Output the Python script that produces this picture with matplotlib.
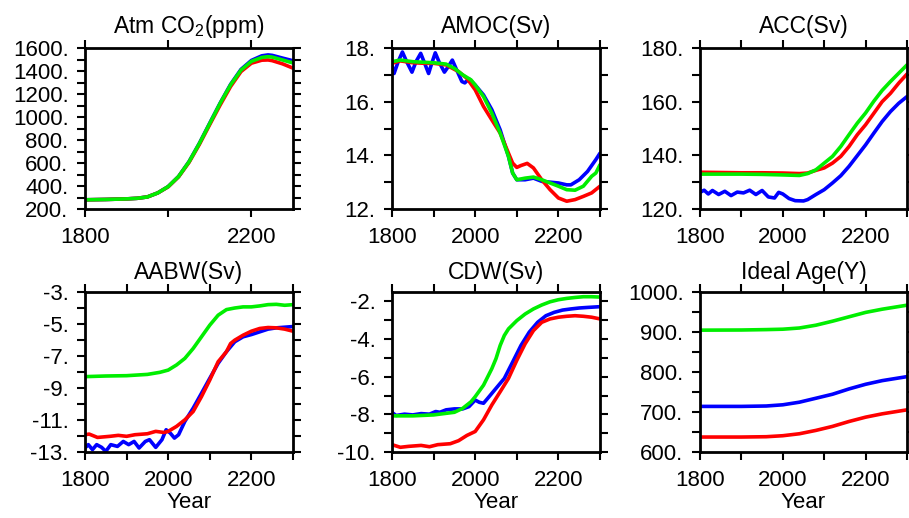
import matplotlib
matplotlib.use("Agg")
import matplotlib.pyplot as plt
from matplotlib.ticker import FuncFormatter, MultipleLocator, FixedLocator

plt.rcParams['font.family'] = ['Liberation Sans', 'DejaVu Sans']
plt.rcParams['mathtext.fontset'] = 'custom'
plt.rcParams['mathtext.rm'] = 'Liberation Sans'

# ---------------- data ----------------
# Atmospheric CO2 (ppm)
co2_years = [1800, 1850, 1900, 1925, 1950, 1975, 2000, 2025, 2050, 2075, 2100,
             2125, 2150, 2175, 2200, 2225, 2240, 2250, 2275, 2300]
co2_blue = [280, 283, 288, 293, 305, 340, 395, 483, 612, 772, 948,
            1122, 1284, 1414, 1492, 1532, 1540, 1536, 1512, 1489]
co2_red = [280, 283, 288, 293, 305, 340, 393, 480, 605, 762, 935,
           1105, 1265, 1395, 1468, 1494, 1496, 1490, 1462, 1425]
co2_green = [280, 283, 288, 293, 305, 340, 395, 483, 610, 770, 945,
             1120, 1280, 1408, 1484, 1518, 1525, 1521, 1496, 1470]

# AMOC (Sv)
amoc_blue_years = [1800, 1805, 1815, 1825, 1835, 1848, 1858, 1869, 1878, 1888,
                   1896, 1904, 1914, 1926, 1935, 1945, 1955, 1968, 1975, 1985,
                   2000, 2020, 2040, 2060, 2080, 2090, 2100, 2120, 2140, 2160,
                   2180, 2200, 2220, 2230, 2250, 2270, 2290, 2300]
amoc_blue = [17.35, 17.05, 17.5, 17.85, 17.5, 17.1, 17.5, 17.8, 17.45, 17.05,
             17.45, 17.82, 17.45, 17.1, 17.3, 17.55, 17.2, 16.75, 16.7, 16.85,
             16.62, 16.25, 15.7, 14.95, 13.96, 13.34, 13.09, 13.09, 13.15, 13.03,
             13.0, 12.97, 12.9, 12.9, 13.09, 13.4, 13.84, 14.08]
amoc_red_years = [1800, 1820, 1850, 1880, 1900, 1930, 1960, 1980, 2000, 2020,
                  2040, 2060, 2080, 2090, 2100, 2110, 2125, 2140, 2160, 2180,
                  2200, 2220, 2240, 2260, 2280, 2300]
amoc_red = [17.43, 17.52, 17.45, 17.43, 17.43, 17.37, 17.12, 16.87, 16.44, 15.82,
            15.32, 14.83, 14.08, 13.71, 13.55, 13.62, 13.7, 13.53, 13.09, 12.72,
            12.41, 12.29, 12.35, 12.47, 12.6, 12.85]
amoc_green_years = [1800, 1820, 1850, 1900, 1930, 1950, 1970, 1990, 2000, 2020,
                    2040, 2060, 2080, 2090, 2100, 2120, 2140, 2160, 2180, 2200,
                    2220, 2240, 2260, 2280, 2290, 2300]
amoc_green = [17.49, 17.55, 17.49, 17.45, 17.4, 17.24, 17.0, 16.81, 16.62, 16.19,
              15.57, 14.83, 13.96, 13.34, 13.09, 13.15, 13.19, 13.09, 12.97, 12.85,
              12.72, 12.70, 12.85, 13.22, 13.34, 13.65]

# ACC (Sv)
acc_blue_years = [1800, 1810, 1820, 1830, 1845, 1860, 1875, 1890, 1905, 1920,
                  1935, 1950, 1965, 1980, 1990, 2000, 2015, 2030, 2050, 2060,
                  2080, 2100, 2120, 2140, 2160, 2180, 2200, 2220, 2240, 2260,
                  2280, 2300]
acc_blue = [126.2, 127.0, 125.6, 126.9, 125.4, 126.6, 125.0, 126.3, 126.0, 127.0,
            125.4, 126.9, 124.5, 124.1, 126.2, 125.6, 123.9, 123.1, 123.0, 123.5,
            125.4, 127.2, 129.7, 132.4, 135.9, 139.9, 143.9, 148.3, 152.6, 156.3,
            159.4, 161.9]
acc_years = [1800, 1850, 1900, 1950, 2000, 2040, 2060, 2080, 2100, 2120, 2140,
             2160, 2180, 2200, 2220, 2240, 2260, 2280, 2300]
acc_red = [133.7, 133.6, 133.5, 133.5, 133.4, 133.2, 133.4, 134.4, 135.3, 137.1,
           139.6, 143.3, 147.7, 151.4, 155.7, 160.0, 163.1, 166.9, 170.3]
acc_green = [133.0, 133.0, 133.0, 132.9, 132.7, 132.5, 133.2, 134.6, 137.1, 139.6,
             143.3, 147.7, 152.0, 155.8, 160.2, 164.2, 167.5, 170.6, 173.7]

# AABW (Sv)
aabw_blue_years = [1800, 1808, 1818, 1828, 1840, 1850, 1862, 1878, 1892, 1905,
                   1918, 1930, 1945, 1955, 1970, 1985, 1995, 2005, 2015, 2025,
                   2040, 2060, 2080, 2100, 2120, 2140, 2160, 2180, 2200, 2220,
                   2240, 2260, 2280, 2300]
aabw_blue = [-12.75, -12.54, -12.85, -12.54, -12.71, -12.96, -12.54, -12.65, -12.34, -12.54,
             -12.34, -12.75, -12.34, -12.23, -12.71, -12.23, -11.61, -11.82, -12.13, -11.92,
             -11.09, -10.26, -9.33, -8.39, -7.46, -6.73, -6.11, -5.80, -5.66, -5.49,
             -5.32, -5.24, -5.20, -5.16]
aabw_red_years = [1800, 1810, 1830, 1860, 1880, 1900, 1920, 1950, 1970, 1990,
                  2000, 2020, 2040, 2060, 2080, 2100, 2120, 2140, 2150, 2160,
                  2180, 2200, 2220, 2240, 2260, 2280, 2300]
aabw_red = [-11.92, -11.88, -12.09, -12.02, -11.96, -12.02, -11.92, -11.86, -11.71, -11.78,
            -11.71, -11.4, -10.99, -10.47, -9.54, -8.5, -7.36, -6.73, -6.22, -6.01,
            -5.70, -5.45, -5.28, -5.22, -5.24, -5.32, -5.45]
aabw_green_years = [1800, 1850, 1900, 1950, 1980, 2000, 2020, 2040, 2060, 2080,
                    2100, 2120, 2140, 2160, 2180, 2200, 2220, 2240, 2260, 2280, 2300]
aabw_green = [-8.29, -8.25, -8.23, -8.15, -8.02, -7.88, -7.56, -7.15, -6.53, -5.80,
              -5.07, -4.45, -4.10, -4.0, -3.93, -3.93, -3.87, -3.79, -3.77, -3.83, -3.79]

# CDW (Sv)
cdw_blue_years = [1800, 1810, 1830, 1850, 1870, 1890, 1905, 1915, 1930, 1950,
                  1970, 1985, 2000, 2010, 2020, 2030, 2050, 2070, 2090, 2110,
                  2130, 2150, 2170, 2190, 2210, 2230, 2250, 2270, 2300]
cdw_blue = [-7.9, -8.06, -7.99, -8.03, -7.96, -7.99, -7.85, -7.89, -7.76, -7.71,
            -7.71, -7.59, -7.24, -7.36, -7.41, -7.15, -6.62, -6.09, -5.22, -4.34,
            -3.63, -3.11, -2.76, -2.58, -2.46, -2.40, -2.35, -2.32, -2.28]
cdw_red_years = [1800, 1820, 1840, 1870, 1890, 1910, 1940, 1960, 1980, 2000,
                 2020, 2040, 2060, 2080, 2100, 2120, 2140, 2160, 2180, 2200,
                 2220, 2240, 2260, 2280, 2300]
cdw_red = [-9.61, -9.75, -9.70, -9.65, -9.72, -9.61, -9.56, -9.4, -9.12, -8.91,
           -8.29, -7.5, -6.8, -6.09, -5.13, -4.25, -3.55, -3.11, -2.93, -2.84,
           -2.79, -2.76, -2.79, -2.84, -2.93]
cdw_green_years = [1800, 1850, 1900, 1950, 1970, 1990, 2000, 2020, 2040, 2050,
                   2060, 2070, 2080, 2100, 2120, 2140, 2160, 2180, 2200, 2220,
                   2240, 2260, 2280, 2300]
cdw_green = [-8.08, -8.08, -8.03, -7.89, -7.68, -7.33, -7.06, -6.45, -5.57, -5.04,
             -4.34, -3.81, -3.46, -3.02, -2.67, -2.40, -2.19, -2.02, -1.91, -1.84,
             -1.79, -1.75, -1.75, -1.77]

# Ideal Age (Y)
age_years = [1800, 1900, 1960, 2000, 2040, 2080, 2120, 2160, 2200, 2240, 2300]
age_blue = [714, 714, 715, 718, 724.5, 734.4, 744.4, 757.7, 769.3, 778.4, 788.4]
age_red = [637.4, 637.4, 638.2, 640.7, 645.6, 654, 664, 676.3, 687.1, 695.4, 705.4]
age_green = [904.6, 905, 906, 907, 910, 917, 927, 938, 949, 957, 967]

titles = ["Atm CO$_2$(ppm)", "AMOC(Sv)", "ACC(Sv)", "AABW(Sv)", "CDW(Sv)", "Ideal Age(Y)"]
ylims = [(200, 1600), (12, 18), (120, 180), (-13, -3), (-10, -1.5), (600, 1000)]
ymajor = [[200, 400, 600, 800, 1000, 1200, 1400, 1600], [12, 14, 16, 18],
          [120, 140, 160, 180], [-13, -11, -9, -7, -5, -3], [-10, -8, -6, -4, -2],
          [600, 700, 800, 900, 1000]]
yminor = [100, 1, 10, 1, 1, 50]

series = [
    [(co2_years, co2_blue), (co2_years, co2_red), (co2_years, co2_green)],
    [(amoc_blue_years, amoc_blue), (amoc_red_years, amoc_red), (amoc_green_years, amoc_green)],
    [(acc_blue_years, acc_blue), (acc_years, acc_red), (acc_years, acc_green)],
    [(aabw_blue_years, aabw_blue), (aabw_red_years, aabw_red), (aabw_green_years, aabw_green)],
    [(cdw_blue_years, cdw_blue), (cdw_red_years, cdw_red), (cdw_green_years, cdw_green)],
    [(age_years, age_blue), (age_years, age_red), (age_years, age_green)],
]
colors = ['#0000ff', '#ff0000', '#00ee00']

# ---------------- layout ----------------
W, H = 909, 518
fig = plt.figure(figsize=(W / 100, H / 100), dpi=100)
cols = [(85, 293), (392, 600), (700, 907)]
rows = [(48, 209), (292, 452)]

for i in range(6):
    r, c = divmod(i, 3)
    x0, x1 = cols[c]
    y0, y1 = rows[r]
    ax = fig.add_axes([x0 / W, 1 - y1 / H, (x1 - x0) / W, (y1 - y0) / H])
    for (xs, ys), col in zip(series[i], colors):
        ax.plot(xs, ys, color=col, lw=2.6, solid_capstyle='round',
                solid_joinstyle='round')
    ax.set_xlim(1800, 2300)
    ax.set_ylim(*ylims[i])
    if i == 0:
        xt = [1800, 2000, 2200]
        xl = ['1800', '', '2200']
    else:
        xt = [1800, 1900, 2000, 2100, 2200, 2300]
        xl = ['1800', '', '2000', '', '2200', '']
    ax.set_xticks(xt)
    ax.set_xticklabels(xl)
    ax.yaxis.set_major_locator(FixedLocator(ymajor[i]))
    ax.yaxis.set_minor_locator(MultipleLocator(yminor[i]))
    ax.yaxis.set_major_formatter(FuncFormatter(lambda v, p: f"{v:.0f}."))
    ax.tick_params(which='both', direction='out', top=True, right=True,
                   length=5.8, width=1.5, labelsize=16)
    ax.tick_params(axis='y', which='major', pad=6)
    ax.tick_params(axis='x', which='major', pad=7)
    for s in ax.spines.values():
        s.set_linewidth(2.0)
    ax.set_title(titles[i], fontsize=16.5, pad=11 if r == 0 else 9)
    if r == 1:
        ax.set_xlabel("Year", fontsize=16, labelpad=1)

fig.savefig("out.png", dpi=100)
